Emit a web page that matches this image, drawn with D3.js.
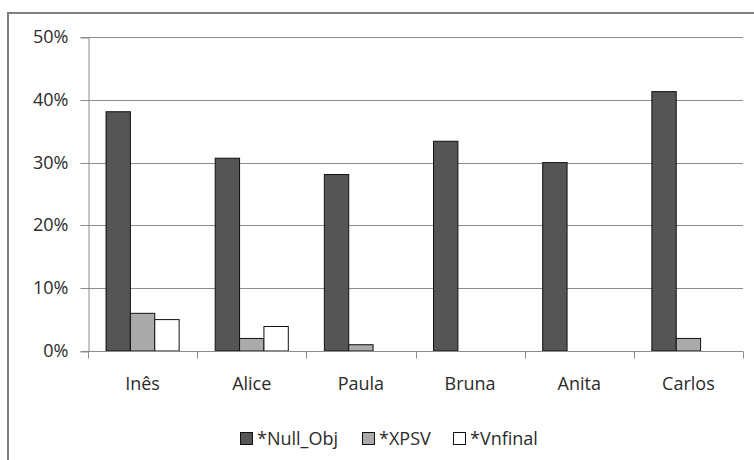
<!DOCTYPE html>
<html>
<head>
<meta charset="utf-8">
<script src="https://cdn.jsdelivr.net/npm/d3@7"></script>
<style>
  body { margin: 0; background: #fff; }
  text { font-family: "Open Sans", sans-serif; fill: #2b2b2b; }
</style>
</head>
<body>
<svg id="chart" width="754" height="460"></svg>
<script>
const categories = ["Inês", "Alice", "Paula", "Bruna", "Anita", "Carlos"];
const seriesNames = ["*Null_Obj", "*XPSV", "*Vnfinal"];
const nullObj = [38.1, 30.7, 28.1, 33.4, 30.0, 41.3];
const xpsv = [6.0, 2.0, 1.0, 0, 0, 2.0];
const vnfinal = [5.0, 3.9, 0, 0, 0, 0];
const yTicks = [0, 10, 20, 30, 40, 50];

const fills = ["#555555", "#aaaaaa", "#ffffff"];
const seriesValues = [nullObj, xpsv, vnfinal];

const margin = { top: 37, right: 11, bottom: 109, left: 88 };
const width = 754, height = 460;

const svg = d3.select("#chart");

// outer frame
svg.append("rect")
  .attr("x", 8).attr("y", 13)
  .attr("width", 760).attr("height", 470)
  .attr("fill", "none")
  .attr("stroke", "#808080")
  .attr("stroke-width", 2);

const x0 = d3.scaleBand()
  .domain(categories)
  .range([margin.left, width - margin.right]);

const x1 = d3.scaleBand()
  .domain(seriesNames)
  .range([0, x0.bandwidth()])
  .paddingOuter(0.74);

const y = d3.scaleLinear()
  .domain([0, 50])
  .range([height - margin.bottom, margin.top]);

// gridlines
svg.append("g")
  .selectAll("line")
  .data(yTicks)
  .join("line")
  .attr("x1", margin.left)
  .attr("x2", width - margin.right)
  .attr("y1", d => Math.round(y(d)) + 0.5)
  .attr("y2", d => Math.round(y(d)) + 0.5)
  .attr("stroke", "#8c8c8c");

// y axis
const yAxis = svg.append("g")
  .attr("transform", `translate(${margin.left + 0.5},0.5)`)
  .call(d3.axisLeft(y).tickValues(yTicks).tickSize(8).tickPadding(12)
    .tickFormat(d => d + "%"));
yAxis.select(".domain").attr("stroke", "#8c8c8c");
yAxis.selectAll(".tick line").attr("stroke", "#8c8c8c");
yAxis.selectAll(".tick").attr("transform", d => `translate(0,${Math.round(y(d))})`);
yAxis.selectAll("text")
  .style("font-family", "Open Sans")
  .style("font-size", "18px")
  .attr("fill", "#2b2b2b");

// bars
const groups = svg.append("g")
  .selectAll("g")
  .data(categories)
  .join("g")
  .attr("transform", d => `translate(${x0(d)},0)`);

groups.selectAll("rect")
  .data((c, i) => seriesNames.map((s, j) => ({ s, v: seriesValues[j][i], j })))
  .join("rect")
  .filter(d => d.v > 0)
  .attr("x", d => x1(d.s))
  .attr("y", d => y(d.v))
  .attr("width", x1.bandwidth())
  .attr("height", d => y(0) - y(d.v))
  .attr("fill", d => fills[d.j])
  .attr("stroke", "#111")
  .attr("stroke-width", 1);

// x axis
const xBase = Math.round(y(0)) + 0.5;
svg.append("line")
  .attr("x1", margin.left).attr("x2", width - margin.right)
  .attr("y1", xBase).attr("y2", xBase)
  .attr("stroke", "#8c8c8c");

svg.append("g")
  .selectAll("line")
  .data(d3.range(categories.length + 1))
  .join("line")
  .attr("x1", i => Math.round(margin.left + i * x0.step()) + 0.5)
  .attr("x2", i => Math.round(margin.left + i * x0.step()) + 0.5)
  .attr("y1", xBase)
  .attr("y2", xBase + 7)
  .attr("stroke", "#8c8c8c");

svg.append("g")
  .selectAll("text")
  .data(categories)
  .join("text")
  .attr("x", d => x0(d) + x0.bandwidth() / 2)
  .attr("y", 390)
  .attr("text-anchor", "middle")
  .style("font-size", "18px")
  .text(d => d);

// legend
const legendX = [240, 362, 453];
const legend = svg.append("g")
  .selectAll("g")
  .data(seriesNames)
  .join("g")
  .attr("transform", (d, i) => `translate(${legendX[i]},432)`);

legend.append("rect")
  .attr("x", 0.5).attr("y", 0.5)
  .attr("width", 12).attr("height", 12)
  .attr("fill", (d, i) => fills[i])
  .attr("stroke", "#111");

legend.append("text")
  .attr("x", 17)
  .attr("y", 13)
  .style("font-size", "18px")
  .text(d => d);
</script>
</body>
</html>
